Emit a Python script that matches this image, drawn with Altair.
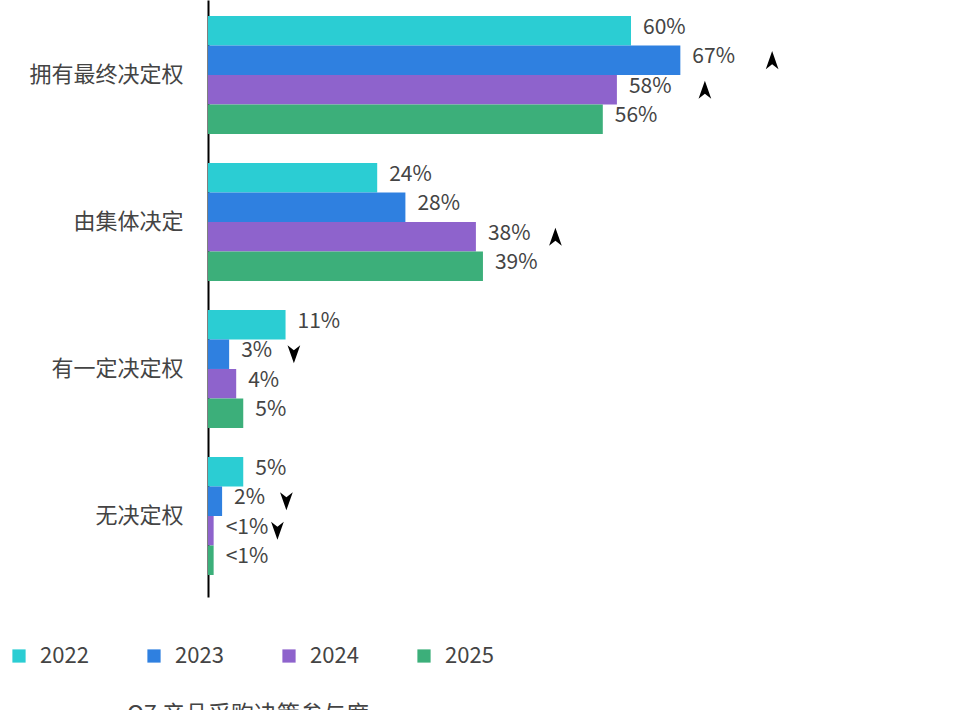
import altair as alt
import pandas as pd

# Decision-making role categories and survey years
categories = ["拥有最终决定权", "由集体决定", "有一定决定权", "无决定权"]
years = ["2022", "2023", "2024", "2025"]

# Share of respondents (%) per year, in category order
values_2022 = [60, 24, 11, 5]
values_2023 = [67, 28, 3, 2]
values_2024 = [58, 38, 4, 0.8]
values_2025 = [56, 39, 5, 0.8]

# Significant year-over-year changes: (category, year, direction)
trend_marks = [
    ("拥有最终决定权", "2023", "up"),
    ("拥有最终决定权", "2024", "up"),
    ("由集体决定", "2024", "up"),
    ("有一定决定权", "2023", "down"),
    ("无决定权", "2023", "down"),
    ("无决定权", "2024", "down"),
]

colors = ["#2bcdd3", "#2f80e0", "#8e63cc", "#3caf7a"]
FONT = "Noto Sans CJK SC"
TEXT = "#444444"

rows = []
for year, vals in zip(years, [values_2022, values_2023, values_2024, values_2025]):
    for cat, v in zip(categories, vals):
        label = "<1%" if v < 1 else f"{v:g}%"
        rows.append({"category": cat, "year": year, "value": v, "label": label})
df = pd.DataFrame(rows)

trend_df = pd.DataFrame(trend_marks, columns=["category", "year", "trend"]).merge(
    df[["category", "year", "value"]], on=["category", "year"]
)

# Notched arrowheads for the change markers
UP = "M0,-1L0.7,1L0,0.45L-0.7,1Z"
DOWN = "M0,1L0.7,-1L0,-0.45L-0.7,-1Z"

y_enc = alt.Y(
    "category:N",
    sort=categories,
    title=None,
    scale=alt.Scale(paddingInner=0.197, paddingOuter=0.129, align=0.42),
    axis=alt.Axis(
        domainColor="#000000",
        domainWidth=2,
        ticks=False,
        labelFontSize=22,
        labelColor=TEXT,
        labelFont=FONT,
        labelPadding=25,
    ),
)
x_enc = alt.X("value:Q", scale=alt.Scale(domain=[0, 100]), axis=None)
yoff = alt.YOffset("year:N", sort=years, scale=alt.Scale(paddingInner=0, paddingOuter=0))

bars = alt.Chart(df).mark_bar().encode(
    y=y_enc,
    x=x_enc,
    yOffset=yoff,
    color=alt.Color(
        "year:N",
        sort=years,
        scale=alt.Scale(domain=years, range=colors),
        legend=alt.Legend(
            title=None,
            orient="none",
            legendX=-200,
            legendY=645,
            direction="horizontal",
            columns=4,
            symbolType="square",
            symbolSize=175,
            symbolStrokeWidth=0,
            labelFontSize=22,
            labelColor=TEXT,
            labelFont=FONT,
            labelOffset=10,
            columnPadding=54,
        ),
    ),
)

labels = alt.Chart(df).mark_text(
    align="left", baseline="middle", dx=12, dy=-3, fontSize=21, color=TEXT, font=FONT
).encode(y=alt.Y("category:N", sort=categories), x="value:Q", yOffset=yoff, text="label:N")

# Change markers sit just past the value labels
arrows = (
    alt.Chart(trend_df)
    .transform_calculate(marker_x="datum.value * 1.06 + 9.0")
    .mark_point(filled=True, color="#000000", opacity=1, size=330, yOffset=-2)
    .encode(
        y=alt.Y("category:N", sort=categories),
        x="marker_x:Q",
        yOffset=yoff,
        shape=alt.Shape(
            "trend:N", scale=alt.Scale(domain=["up", "down"], range=[UP, DOWN]), legend=None
        ),
    )
)

chart = (
    alt.layer(bars, labels, arrows)
    .properties(
        width=705,
        height=597,
        autosize=alt.AutoSizeParams(type="none"),
        padding={"left": 208, "top": 0, "right": 41, "bottom": 120},
        title=alt.TitleParams(
            "Q7 产品采购决策参与度",
            orient="bottom",
            anchor="start",
            font=FONT,
            fontSize=23,
            fontWeight="normal",
            color=TEXT,
            dx=119,
            offset=37,
        ),
    )
    .configure_view(stroke=None)
)

chart.save("out.html", embed_options={"renderer": "svg", "actions": False})
